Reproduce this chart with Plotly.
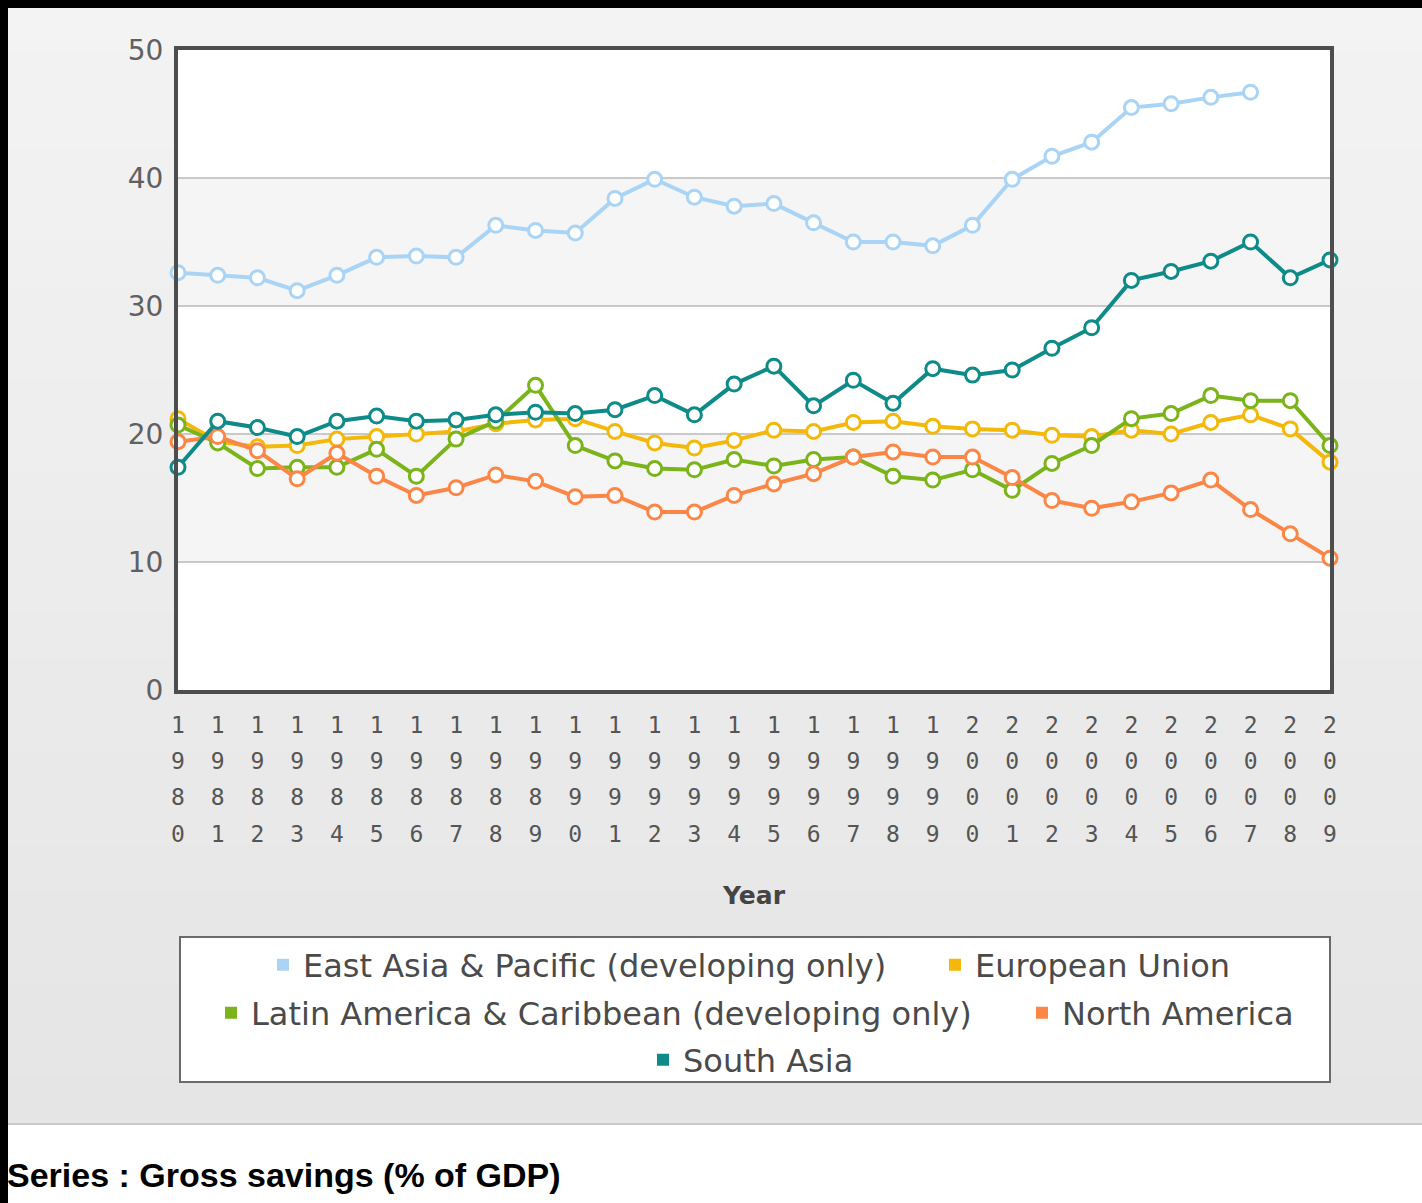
import plotly.graph_objects as go

# ---------------- data ----------------
years = list(range(1980, 2010))
east_asia = [32.6, 32.4, 32.2, 31.2, 32.4, 33.8, 33.9, 33.8, 36.3, 35.9,
             35.7, 38.4, 39.9, 38.5, 37.8, 38.0, 36.5, 35.0, 35.0, 34.7,
             36.3, 39.9, 41.7, 42.8, 45.5, 45.8, 46.3, 46.7, None, None]
european_union = [21.2, 19.4, 19.0, 19.1, 19.6, 19.8, 20.0, 20.2, 20.8, 21.1,
                  21.2, 20.2, 19.3, 18.9, 19.5, 20.3, 20.2, 20.9, 21.0, 20.6,
                  20.4, 20.3, 19.9, 19.8, 20.3, 20.0, 20.9, 21.5, 20.4, 17.8]
latin_america = [20.7, 19.3, 17.3, 17.4, 17.4, 18.8, 16.7, 19.6, 21.0, 23.8,
                 19.1, 17.9, 17.3, 17.2, 18.0, 17.5, 18.0, 18.2, 16.7, 16.4,
                 17.2, 15.6, 17.7, 19.1, 21.2, 21.6, 23.0, 22.6, 22.6, 19.1]
north_america = [19.4, 19.8, 18.7, 16.5, 18.5, 16.7, 15.2, 15.8, 16.8, 16.3,
                 15.1, 15.2, 13.9, 13.9, 15.2, 16.1, 16.9, 18.2, 18.6, 18.2,
                 18.2, 16.6, 14.8, 14.2, 14.7, 15.4, 16.4, 14.1, 12.2, 10.3]
south_asia = [17.4, 21.0, 20.5, 19.8, 21.0, 21.4, 21.0, 21.1, 21.5, 21.7,
              21.6, 21.9, 23.0, 21.5, 23.9, 25.3, 22.2, 24.2, 22.4, 25.1,
              24.6, 25.0, 26.7, 28.3, 32.0, 32.7, 33.5, 35.0, 32.2, 33.6]

series_names = ["East Asia & Pacific (developing only)", "European Union",
                "Latin America & Caribbean (developing only)", "North America",
                "South Asia"]
series_values = [east_asia, european_union, latin_america, north_america, south_asia]
series_colors = ["#a9d4f6", "#f3b80a", "#7bb41a", "#fc8646", "#0e8b89"]

y_ticks = [0, 10, 20, 30, 40, 50]
x_title = "Year"
footer = "Series : Gross savings (% of GDP)"

# ---------------- geometry ----------------
W, H = 1422, 1203
L, R, T, B = 178, 1330, 50, 690   # plot area in pixels


def px(x):
    return (x - L) / (R - L)


def py(y):
    return (B - y) / (B - T)


def tick_text(year):
    return "<br>".join('<span style="font-size:23px">%s</span>' % d for d in str(year))


fig = go.Figure()

for name, vals, col in zip(series_names, series_values, series_colors):
    fig.add_trace(go.Scatter(
        x=years, y=vals, name=name, mode="lines+markers",
        line=dict(color=col, width=4),
        marker=dict(size=14, color="white", line=dict(color=col, width=3)),
        cliponaxis=False, showlegend=False, connectgaps=False,
    ))

# legend entries (square swatches), one legend per entry so rows can be centred
legend_pos = [(263, 965), (935, 965), (211, 1013), (1022, 1013), (643, 1060)]
legend_ids = ["legend", "legend2", "legend3", "legend4", "legend5"]
for name, col, lid in zip(series_names, series_colors, legend_ids):
    fig.add_trace(go.Scatter(
        x=[None], y=[None], name=name, mode="markers",
        marker=dict(symbol="square", size=12, color=col),
        legend=lid, showlegend=True,
    ))

legend_layout = {}
for lid, (lx, ly) in zip(legend_ids, legend_pos):
    legend_layout[lid] = dict(
        x=px(lx), y=py(ly), xanchor="left", yanchor="middle",
        orientation="h", bgcolor="rgba(0,0,0,0)", borderwidth=0,
        font=dict(family="DejaVu Sans", size=32, color="#4a4a4a"),
        itemsizing="trace",
    )

shapes = []
# background gradient (light grey)
n_bands = 24
top_c = (243, 243, 243)
bot_c = (229, 229, 229)
g_top, g_bot = 8, 1123
for i in range(n_bands):
    t = i / (n_bands - 1)
    c = tuple(round(top_c[k] + (bot_c[k] - top_c[k]) * t) for k in range(3))
    y0 = g_top + (g_bot - g_top) * i / n_bands
    y1 = g_top + (g_bot - g_top) * (i + 1) / n_bands + 1
    shapes.append(dict(type="rect", xref="paper", yref="paper", layer="below",
                       x0=px(0), x1=px(W), y0=py(y0), y1=py(y1),
                       fillcolor="rgb(%d,%d,%d)" % c, line=dict(width=0)))
# white lower area with separator
shapes.append(dict(type="rect", xref="paper", yref="paper", layer="below",
                   x0=px(0), x1=px(W), y0=py(1124), y1=py(H),
                   fillcolor="white", line=dict(width=0)))
shapes.append(dict(type="line", xref="paper", yref="paper", layer="below",
                   x0=px(0), x1=px(W), y0=py(1124), y1=py(1124),
                   line=dict(color="#c9c9c9", width=2)))
# plot area white
shapes.append(dict(type="rect", xref="paper", yref="paper", layer="below",
                   x0=0, x1=1, y0=0, y1=1, fillcolor="white", line=dict(width=0)))
# alternating bands
for lo, hi in [(10, 20), (30, 40)]:
    shapes.append(dict(type="rect", xref="x domain", yref="y", layer="below",
                       x0=0, x1=1, y0=lo, y1=hi, fillcolor="#f5f5f5",
                       line=dict(width=0)))
# legend box
shapes.append(dict(type="rect", xref="paper", yref="paper", layer="below",
                   x0=px(180), x1=px(1330), y0=py(937), y1=py(1082),
                   fillcolor="white", line=dict(color="#6a6a6a", width=2)))
# black frame edges
shapes.append(dict(type="rect", xref="paper", yref="paper", layer="above",
                   x0=px(0), x1=px(W), y0=py(0), y1=py(8),
                   fillcolor="black", line=dict(width=0)))
shapes.append(dict(type="rect", xref="paper", yref="paper", layer="above",
                   x0=px(0), x1=px(8), y0=py(0), y1=py(H),
                   fillcolor="black", line=dict(width=0)))

fig.update_layout(
    width=W, height=H,
    margin=dict(l=L, r=W - R, t=T, b=H - B, autoexpand=False),
    paper_bgcolor="#eeeeee", plot_bgcolor="white",
    shapes=shapes,
    annotations=[dict(
        text="<b>%s</b>" % footer, xref="paper", yref="paper",
        x=px(5), y=py(1175), xanchor="left", yanchor="middle", showarrow=False,
        font=dict(family="Liberation Sans", size=34, color="black"),
    )],
    **legend_layout,
)

fig.update_xaxes(
    range=[1980, 2009], tickmode="array", tickvals=years,
    ticktext=[tick_text(y) for y in years],
    tickfont=dict(family="DejaVu Sans Mono", size=28, color="#555555"),
    tickangle=0, showgrid=False, zeroline=False,
    showline=True, mirror=True, linecolor="#4d4d4d", linewidth=4,
    ticks="", ticklabelstandoff=5,
    title=dict(text="<b>%s</b>" % x_title, standoff=42,
               font=dict(family="DejaVu Sans", size=25, color="#444444")),
)
fig.update_yaxes(
    range=[0, 50], tickmode="array", tickvals=y_ticks,
    tickfont=dict(family="DejaVu Sans", size=28, color="#606060"),
    showgrid=True, gridcolor="#c9c9c9", gridwidth=2, zeroline=False,
    showline=True, mirror=True, linecolor="#4d4d4d", linewidth=4,
    ticks="", ticklabelstandoff=5,
)

fig.write_html(
    "out.html",
    config={"displayModeBar": False},
    post_script="document.body.style.margin='0px';document.body.style.overflow='hidden';",
)
